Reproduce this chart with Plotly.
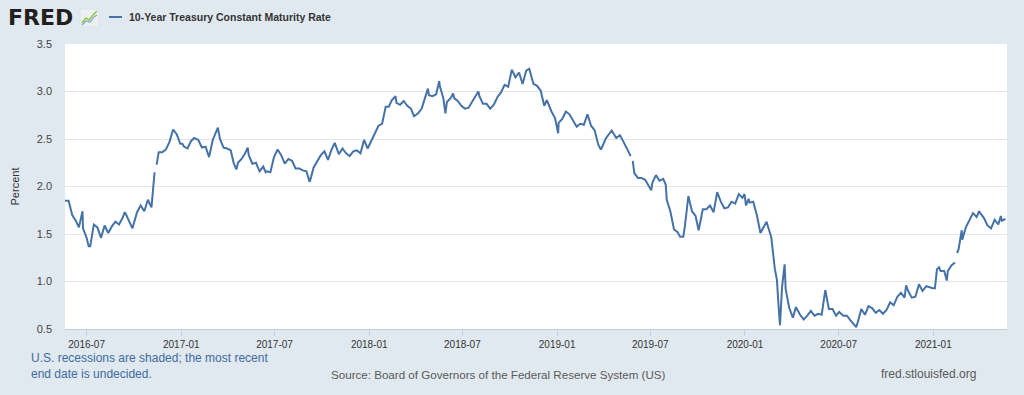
import plotly.graph_objects as go

# ---- data: 10-Year Treasury Constant Maturity Rate (percent) ----
dates_2016 = ["2016-05-20","2016-05-27","2016-06-03","2016-06-10","2016-06-16","2016-06-23","2016-06-24",
              "2016-07-01","2016-07-05","2016-07-08","2016-07-15","2016-07-22","2016-07-29","2016-08-05",
              "2016-08-12","2016-08-19","2016-08-26","2016-09-02","2016-09-09","2016-09-13","2016-09-16",
              "2016-09-23","2016-09-28","2016-10-07","2016-10-14","2016-10-21","2016-10-28","2016-11-04",
              "2016-11-09","2016-11-10","2016-11-11","2016-11-14","2016-11-18","2016-11-25","2016-12-02",
              "2016-12-09","2016-12-15","2016-12-16","2016-12-23","2016-12-30"]
vals_2016 = [1.85,1.85,1.70,1.64,1.57,1.74,1.56,
             1.46,1.37,1.37,1.60,1.57,1.46,1.59,
             1.51,1.58,1.63,1.60,1.67,1.73,1.70,
             1.62,1.56,1.73,1.80,1.74,1.86,1.78,
             2.07,2.15,None,2.23,2.36,2.36,2.39,
             2.47,2.60,2.60,2.55,2.45]

dates_2017 = ["2017-01-03","2017-01-06","2017-01-13","2017-01-20","2017-01-26","2017-02-03","2017-02-10",
              "2017-02-17","2017-02-24","2017-03-03","2017-03-10","2017-03-13","2017-03-17","2017-03-24",
              "2017-03-31","2017-04-07","2017-04-13","2017-04-18","2017-04-21","2017-04-28","2017-05-05",
              "2017-05-10","2017-05-12","2017-05-19","2017-05-26","2017-06-02","2017-06-09","2017-06-14",
              "2017-06-16","2017-06-23","2017-06-30","2017-07-07","2017-07-14","2017-07-21","2017-07-28",
              "2017-08-04","2017-08-11","2017-08-18","2017-08-25","2017-09-01","2017-09-07","2017-09-08",
              "2017-09-15","2017-09-22","2017-09-29","2017-10-06","2017-10-13","2017-10-20","2017-10-26",
              "2017-11-03","2017-11-10","2017-11-17","2017-11-24","2017-12-01","2017-12-08","2017-12-15",
              "2017-12-22","2017-12-29"]
vals_2017 = [2.45,2.42,2.40,2.48,2.51,2.49,2.41,
             2.42,2.31,2.49,2.58,2.62,2.50,2.41,
             2.40,2.38,2.24,2.18,2.25,2.29,2.35,
             2.41,2.33,2.24,2.25,2.16,2.21,2.15,
             2.16,2.15,2.31,2.39,2.33,2.24,2.29,
             2.27,2.19,2.19,2.17,2.16,2.05,2.06,
             2.20,2.26,2.33,2.37,2.28,2.39,2.46,
             2.34,2.40,2.35,2.32,2.37,2.38,2.35,
             2.49,2.40]

dates_2018 = ["2018-01-05","2018-01-12","2018-01-19","2018-01-26","2018-02-02","2018-02-08","2018-02-14",
              "2018-02-21","2018-02-23","2018-03-02","2018-03-09","2018-03-16","2018-03-23","2018-03-29",
              "2018-04-06","2018-04-13","2018-04-20","2018-04-25","2018-04-27","2018-05-04","2018-05-11",
              "2018-05-17","2018-05-18","2018-05-25","2018-05-29","2018-06-01","2018-06-08","2018-06-13",
              "2018-06-15","2018-06-22","2018-06-29","2018-07-06","2018-07-13","2018-07-20","2018-07-27",
              "2018-08-01","2018-08-03","2018-08-10","2018-08-17","2018-08-24","2018-08-31","2018-09-07",
              "2018-09-14","2018-09-21","2018-09-28","2018-10-05","2018-10-12","2018-10-19","2018-10-26",
              "2018-11-02","2018-11-08","2018-11-16","2018-11-23","2018-11-30","2018-12-07","2018-12-12",
              "2018-12-21","2018-12-28"]
vals_2018 = [2.48,2.55,2.64,2.66,2.84,2.84,2.91,
             2.95,2.88,2.86,2.90,2.85,2.82,2.74,
             2.77,2.82,2.96,3.03,2.96,2.95,2.97,
             3.11,3.06,2.93,2.77,2.89,2.93,2.98,
             2.93,2.90,2.85,2.82,2.83,2.89,2.96,
             3.00,2.95,2.87,2.87,2.82,2.86,2.94,
             2.99,3.07,3.05,3.23,3.15,3.20,3.08,
             3.22,3.24,3.08,3.06,3.01,2.85,2.91,
             2.79,2.72]

dates_2019 = ["2019-01-03","2019-01-04","2019-01-11","2019-01-18","2019-01-25","2019-02-01","2019-02-08",
              "2019-02-15","2019-02-22","2019-03-01","2019-03-08","2019-03-15","2019-03-22","2019-03-27",
              "2019-03-29","2019-04-05","2019-04-12","2019-04-17","2019-04-26","2019-05-03","2019-05-10",
              "2019-05-17","2019-05-24","2019-05-27","2019-05-28","2019-05-31","2019-06-07","2019-06-14",
              "2019-06-21","2019-06-28","2019-07-03","2019-07-05","2019-07-12","2019-07-19","2019-07-26",
              "2019-07-31","2019-08-02","2019-08-09","2019-08-16","2019-08-23","2019-08-28","2019-09-03",
              "2019-09-06","2019-09-13","2019-09-20","2019-09-27","2019-10-03","2019-10-11","2019-10-18",
              "2019-10-25","2019-11-01","2019-11-08","2019-11-15","2019-11-22","2019-11-29","2019-12-06",
              "2019-12-13","2019-12-20","2019-12-27","2019-12-31"]
vals_2019 = [2.56,2.67,2.71,2.79,2.76,2.70,2.63,
             2.66,2.65,2.76,2.64,2.59,2.44,2.39,
             2.41,2.50,2.56,2.59,2.51,2.54,2.47,
             2.39,2.32,None,2.27,2.14,2.09,2.09,
             2.07,2.00,1.96,2.04,2.12,2.06,2.08,
             2.02,1.86,1.74,1.55,1.52,1.47,1.47,
             1.57,1.90,1.74,1.69,1.54,1.76,1.76,
             1.80,1.73,1.94,1.84,1.77,1.78,1.84,
             1.82,1.92,1.88,1.92]

dates_2020 = ["2020-01-03","2020-01-08","2020-01-10","2020-01-17","2020-01-24","2020-01-31","2020-02-07",
              "2020-02-12","2020-02-14","2020-02-21","2020-02-28","2020-03-03","2020-03-06","2020-03-09",
              "2020-03-13","2020-03-18","2020-03-20","2020-03-27","2020-04-03","2020-04-09","2020-04-17",
              "2020-04-24","2020-05-01","2020-05-08","2020-05-15","2020-05-22","2020-05-29","2020-06-05",
              "2020-06-12","2020-06-19","2020-06-26","2020-07-02","2020-07-10","2020-07-17","2020-07-24",
              "2020-07-31","2020-08-04","2020-08-07","2020-08-14","2020-08-21","2020-08-28","2020-09-04",
              "2020-09-11","2020-09-18","2020-09-25","2020-10-02","2020-10-09","2020-10-16","2020-10-23",
              "2020-10-30","2020-11-06","2020-11-09","2020-11-13","2020-11-20","2020-11-27","2020-12-04",
              "2020-12-11","2020-12-18","2020-12-24","2020-12-31"]
vals_2020 = [1.80,1.87,1.83,1.84,1.70,1.51,1.59,
             1.63,1.59,1.47,1.13,1.02,0.76,0.54,
             0.94,1.18,0.92,0.72,0.62,0.73,0.65,
             0.60,0.64,0.69,0.64,0.66,0.65,0.91,
             0.71,0.71,0.64,0.68,0.64,0.64,0.59,
             0.55,0.52,0.57,0.71,0.65,0.74,0.72,
             0.67,0.70,0.66,0.70,0.78,0.75,0.84,
             0.88,0.83,0.96,0.90,0.83,0.84,0.97,
             0.90,0.95,0.94,0.93]

dates_2021 = ["2021-01-04","2021-01-06","2021-01-08","2021-01-12","2021-01-15","2021-01-22","2021-01-27",
              "2021-01-29","2021-02-05","2021-02-12","2021-02-15","2021-02-16","2021-02-19","2021-02-25",
              "2021-02-26","2021-03-05","2021-03-12","2021-03-18","2021-03-19","2021-03-26","2021-03-31",
              "2021-04-02","2021-04-09","2021-04-16","2021-04-23","2021-04-30","2021-05-07","2021-05-12",
              "2021-05-14","2021-05-21"]
vals_2021 = [0.93,1.04,1.13,1.15,1.11,1.11,1.01,
             1.11,1.17,1.20,None,1.30,1.34,1.54,
             1.44,1.57,1.64,1.71,1.72,1.68,1.74,
             1.72,1.67,1.59,1.56,1.65,1.60,1.69,
             1.64,1.66]

dates = dates_2016 + dates_2017 + dates_2018 + dates_2019 + dates_2020 + dates_2021
values = vals_2016 + vals_2017 + vals_2018 + vals_2019 + vals_2020 + vals_2021

series_name = "10-Year Treasury Constant Maturity Rate"
y_ticks = [0.5, 1.0, 1.5, 2.0, 2.5, 3.0, 3.5]

# ---- layout constants ----
W, H = 1024, 395
L, R, T, B = 65, 17, 44, 66
PW, PH = W - L - R, H - T - B
LINE = "#4572A7"
BG = "#E1E9F0"
FONT = "Liberation Sans, Arial, sans-serif"


def px(x):
    return (x - L) / PW


def py(y):
    return (H - B - y) / PH


fig = go.Figure()
fig.add_trace(go.Scatter(x=dates, y=values, mode="lines", name=series_name,
                         line=dict(color=LINE, width=2), connectgaps=False,
                         showlegend=False))

shapes = []
annotations = []

# legend line + text
shapes.append(dict(type="line", xref="paper", yref="paper", x0=px(109), x1=px(122),
                   y0=py(17), y1=py(17), line=dict(color=LINE, width=2)))
annotations.append(dict(xref="paper", yref="paper", x=px(127), y=py(17), xanchor="left",
                        yanchor="middle", showarrow=False, text="<b>" + series_name + "</b>",
                        font=dict(family=FONT, size=10.5, color="#333333")))

# FRED logo
annotations.append(dict(xref="paper", yref="paper", x=px(6), y=py(18), xanchor="left",
                        yanchor="middle", showarrow=False, text="<b>FRED</b>",
                        font=dict(family="DejaVu Sans, sans-serif", size=22,
                                  color="#231F20")))
shapes.append(dict(type="rect", xref="paper", yref="paper", x0=px(80), x1=px(99),
                   y0=py(27), y1=py(9), fillcolor="#EDF0F2",
                   line=dict(color="#DCE2E7", width=1)))
shapes.append(dict(type="path", xref="paper", yref="paper",
                   path=f"M {px(82)},{py(23)} L {px(86)},{py(18)} L {px(89)},{py(20)} L {px(93)},{py(15)} L {px(97)},{py(11)}",
                   line=dict(color="#8DC63F", width=1.4)))
shapes.append(dict(type="path", xref="paper", yref="paper",
                   path=f"M {px(82)},{py(25)} L {px(86)},{py(21)} L {px(90)},{py(22)} L {px(94)},{py(17)} L {px(97)},{py(15)}",
                   line=dict(color="#7FA4CC", width=1.2)))

# footer texts
annotations.append(dict(xref="paper", yref="paper", x=px(29), y=py(366), xanchor="left",
                        yanchor="middle", align="left", showarrow=False,
                        text="U.S. recessions are shaded; the most recent<br>end date is undecided.",
                        font=dict(family=FONT, size=12, color="#3E6BA3")))
annotations.append(dict(xref="paper", yref="paper", x=px(498), y=py(374), xanchor="center",
                        yanchor="middle", showarrow=False,
                        text="Source: Board of Governors of the Federal Reserve System (US)",
                        font=dict(family=FONT, size=11.6, color="#595959")))
annotations.append(dict(xref="paper", yref="paper", x=px(978), y=py(374), xanchor="right",
                        yanchor="middle", showarrow=False, text="fred.stlouisfed.org",
                        font=dict(family=FONT, size=12, color="#595959")))

fig.update_layout(
    width=W, height=H,
    margin=dict(l=L, r=R, t=T, b=B, pad=0),
    paper_bgcolor=BG, plot_bgcolor="white",
    font=dict(family=FONT, size=11, color="#333333"),
    shapes=shapes, annotations=annotations,
    xaxis=dict(type="date", range=["2016-05-20", "2021-05-24"],
               tick0="2016-07-01", dtick="M6", tickformat="%Y-%m",
               showgrid=False, showline=True, linecolor="#C0D0E0", linewidth=1,
               ticks="outside", ticklen=6, tickcolor="#C0D0E0",
               tickfont=dict(family=FONT, size=10, color="#333333"),
               zeroline=False, fixedrange=True),
    yaxis=dict(range=[0.5, 3.5], tickvals=y_ticks, tickformat=".1f",
               showgrid=True, gridcolor="#E6E6E6", gridwidth=1,
               zeroline=False, showline=False, ticks="",
               ticklabelstandoff=12,
               tickfont=dict(family=FONT, size=11, color="#444444"),
               title=dict(text="Percent", font=dict(family=FONT, size=11, color="#333333"),
                          standoff=14),
               fixedrange=True),
)

fig.write_html("out.html", config={"displayModeBar": False},
               post_script="document.body.style.margin='0px';")
